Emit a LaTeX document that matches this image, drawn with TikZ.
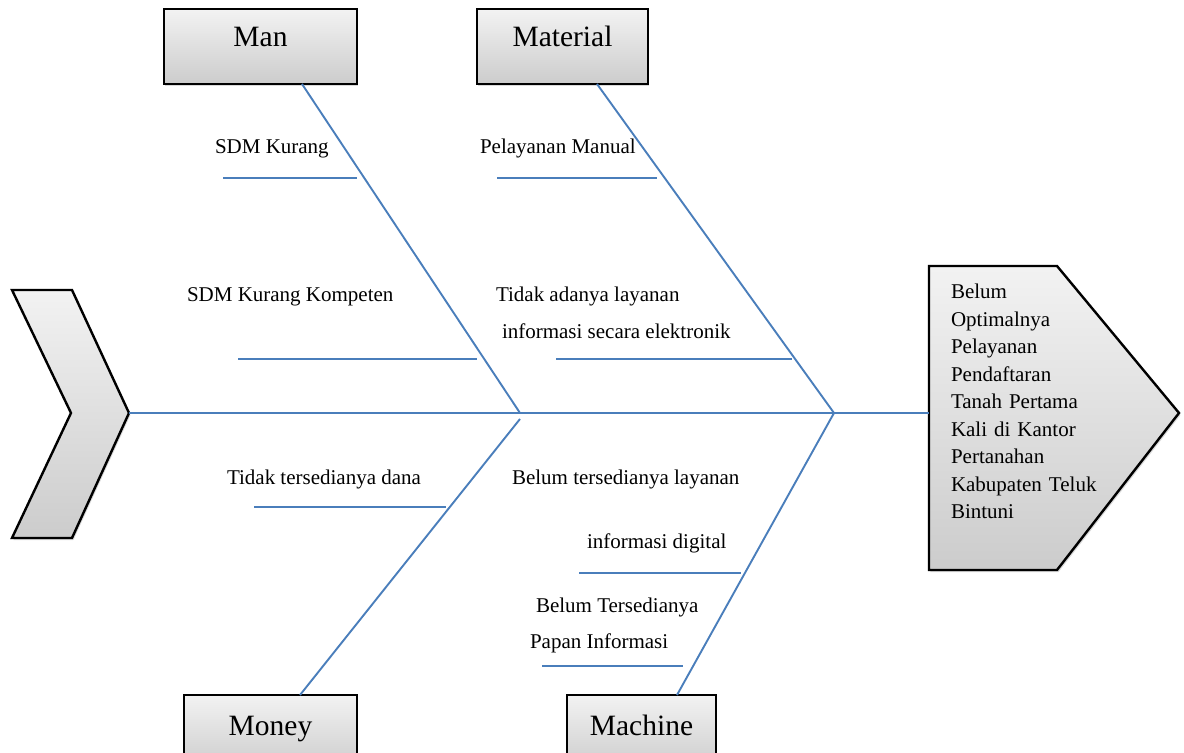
\documentclass[tikz,border=0pt]{standalone}
\usepackage{fontspec}
\setmainfont{Liberation Serif}
\usetikzlibrary{calc,shadows}

\begin{document}
\begin{tikzpicture}[x=0.5pt,y=0.5pt,
  bone/.style={draw=boneColor,line width=0.95pt},
  greybox/.style={draw=black,line width=1.2pt,line join=miter,top color=gray!10,bottom color=gray!40,
    drop shadow={shadow xshift=0.7pt,shadow yshift=-1.1pt,opacity=0.3}},
  catbox/.style={greybox,inner sep=0pt,outer sep=0pt,font=\fontsize{14.75}{17}\selectfont},
  cause/.style={anchor=base west,inner sep=0pt,outer sep=0pt,font=\fontsize{10.5}{13}\selectfont}]
\definecolor{boneColor}{RGB}{74,126,187}
\useasboundingbox (0,0) rectangle (1184,753);
\begin{scope}
\clip (0,0) rectangle (1184,753);

% category boxes
\node[catbox,minimum width=96.5pt,text height=19pt,text depth=18.5pt] (man) at (260.5,706.5) {Man};
\node[catbox,minimum width=85.5pt,text height=19pt,text depth=18.5pt] (material) at (562.5,706.5) {Material};
\node[catbox,minimum width=86.5pt,text height=20.5pt,text depth=17pt] (money) at (270.5,20.5) {Money};
\node[catbox,minimum width=74.5pt,text height=20.5pt,text depth=17pt] (machine) at (641.5,20.5) {Machine};

% tail and head
\path[greybox] (12,463) -- (72,463) -- (129,340) -- (72,215) -- (12,215) -- (71,340) -- cycle;
\path[greybox] (929,487) -- (1057,487) -- (1179,340) -- (1057,183) -- (929,183) -- cycle;
\coordinate (tail) at (129,340);
\coordinate (headin) at (929,340);
\coordinate (jA) at (520,340);
\coordinate (jAlow) at (520,334);
\coordinate (jB) at (834,340);

\node[anchor=north west,inner sep=0pt,outer sep=0pt,text width=73pt,align=left,
  font=\fontsize{10.5}{13.75}\selectfont] (effect) at (951,469)
  {Belum\\Optimalnya\\Pelayanan\\Pendaftaran\\\makebox[73pt][s]{Tanah Pertama}\\
   \makebox[73pt][s]{Kali di Kantor}\\Pertanahan\\\makebox[73pt][s]{Kabupaten Teluk}\\Bintuni};

% spine and bones
\draw[bone] (tail) -- (headin);
\draw[bone] ($(man.south)+(41.5,0)$) -- (jA);
\draw[bone] ($(material.south)+(34.5,0)$) -- (jB);
\draw[bone] (jAlow) -- ($(money.north)+(29.5,0)$);
\draw[bone] (jB) -- ($(machine.north)+(35.5,0)$);

% causes
\node[cause] (sdmk) at (215,599) {SDM Kurang};
\draw[bone] (223,575) coordinate (sdmkA) -- (357,575) coordinate (sdmkB);
\node[cause] (manual) at (480,599) {Pelayanan Manual};
\draw[bone] (497,575) coordinate (manualA) -- (657,575) coordinate (manualB);
\node[cause] (kompeten) at (187,451) {SDM Kurang Kompeten};
\draw[bone] (238,394) coordinate (kompetenA) -- (477,394) coordinate (kompetenB);
\node[cause] (elek1) at (496,451) {Tidak adanya layanan};
\node[cause] (elek2) at (502,414) {informasi secara elektronik};
\draw[bone] (556,394) coordinate (elekA) -- (792,394) coordinate (elekB);
\node[cause] (dana) at (227,268) {Tidak tersedianya dana};
\draw[bone] (254,246) coordinate (danaA) -- (446,246) coordinate (danaB);
\node[cause] (digital1) at (512,268) {Belum tersedianya layanan};
\node[cause] (digital2) at (587,204) {informasi digital};
\draw[bone] (579,180) coordinate (digitalA) -- (741,180) coordinate (digitalB);
\node[cause] (papan1) at (536,140) {Belum Tersedianya};
\node[cause] (papan2) at (530,104) {Papan Informasi};
\draw[bone] (542,87) coordinate (papanA) -- (683,87) coordinate (papanB);
\end{scope}
\end{tikzpicture}
\end{document}
